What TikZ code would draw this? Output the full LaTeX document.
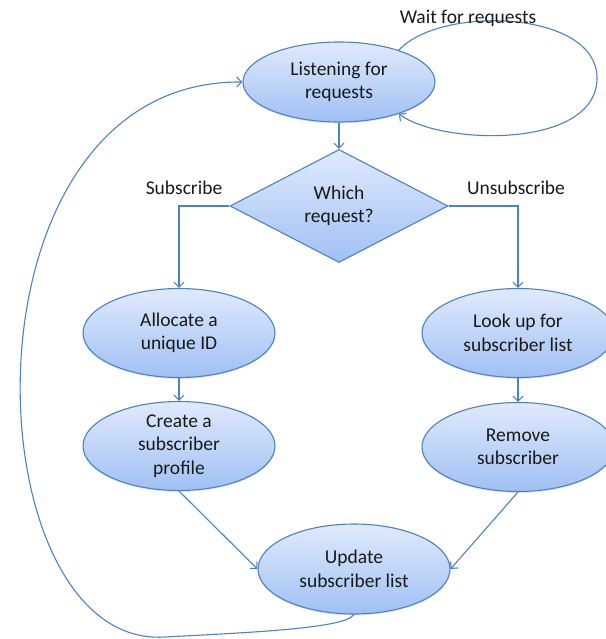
\documentclass[tikz,border=0pt]{standalone}
\usepackage{fontspec}
\setmainfont{Carlito}
\usetikzlibrary{shapes.geometric,arrows.meta,shadows}
\definecolor{edge}{RGB}{79,129,189}
\definecolor{filltop}{RGB}{224,234,252}
\definecolor{fillbot}{RGB}{160,192,244}
\definecolor{ink}{RGB}{25,25,25}
\tikzset{
  state/.style={ellipse, draw=edge, line width=1.1pt, top color=filltop, bottom color=fillbot,
    inner sep=0pt, minimum width=192pt, minimum height=89pt, align=center, text=ink,
    drop shadow={opacity=0.18, shadow xshift=0pt, shadow yshift=-1.5pt}},
  choice/.style={diamond, draw=edge, line width=1.1pt, top color=filltop, bottom color=fillbot,
    inner sep=0pt, minimum width=218pt, minimum height=113pt, align=center, text=ink},
  lbl/.style={text=ink},
  arr/.style={->, draw=edge, line width=1.1pt}
}
\begin{document}
\begin{tikzpicture}[x=1pt, y=-1pt, >={Straight Barb[length=5pt,width=10pt]},
  font=\fontsize{19.5}{23.5}\selectfont]
	\useasboundingbox (0,0) rectangle (605,639);
	% Ascolto e scelta
	\node [state, minimum height=80pt] (lis) at (339,82) {Listening for\\requests};
	\node [choice] (dia) at (339,206) {Which\\request?};
	% Ramo Subscribe
	\node [state] (alc) at (179,333) {Allocate a\\unique ID};
	\node [state] (prf) at (179,446) {Create a\\subscriber\\profile};
	% Ramo Unsubscribe
	\node [state] (lku) at (518,333) {Look up for\\subscriber list};
	\node [state] (rem) at (518,447) {Remove\\subscriber};
	% Aggiornamento
	\node [state, minimum height=90pt] (upd) at (354,569) {Update\\subscriber list};
	% Frecce
	\draw [arr] (lis) -- (dia);
	\draw [arr] (dia.west) -| (alc.north);
	\draw [arr] (dia.east) -| (lku.north);
	\draw [arr] (alc) -- (prf);
	\draw [arr] (lku) -- (rem);
	\draw [arr] (prf.south) -- (upd.west);
	\draw [arr] (rem.south) -- (upd.east);
	\draw [arr] (upd.south) .. controls (345,628) and (260,632) .. (165,637)
		.. controls (-30,650) and (-50,80) .. (lis.west);
	\draw [arr] (lis.28) .. controls (440,5) and (597,10) .. (597,78)
		.. controls (597,150) and (440,145) .. (lis.-28);
	% NOMI
	\node [lbl] (wait) at (468,18) {Wait for requests};
	\node [lbl] (sub) at (184,188) {Subscribe};
	\node [lbl] (uns) at (516,188) {Unsubscribe};
\end{tikzpicture}
\end{document}
